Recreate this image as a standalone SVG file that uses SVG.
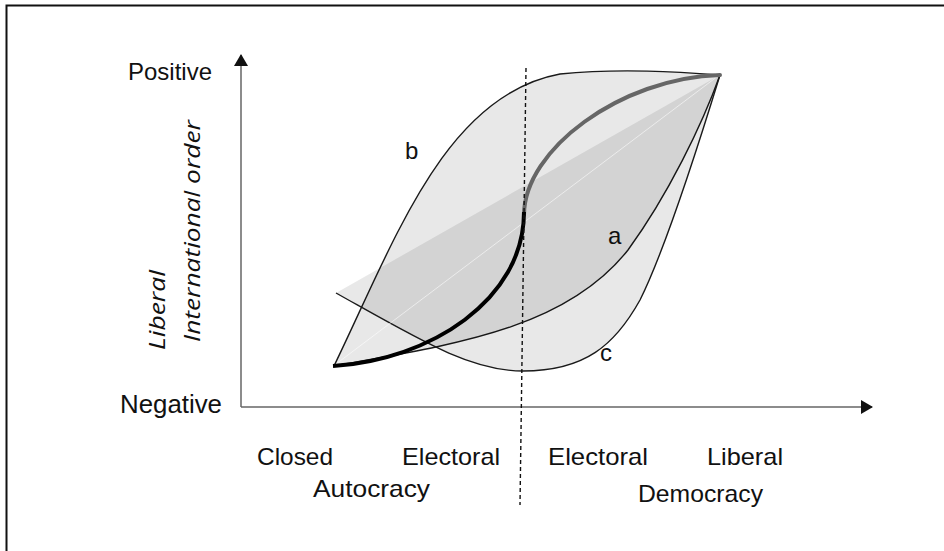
<svg xmlns="http://www.w3.org/2000/svg" width="944" height="551" viewBox="0 0 944 551">
  <defs>
    <style>
      .lbl { font-family: "Liberation Sans", Arial, sans-serif; fill: #111; }
      .ax { font-family: "Open Sans", "Liberation Sans", sans-serif; font-style: italic; fill: #111; }
      .area { fill: #000; fill-opacity: 0.09; stroke: none; }
      .curve { fill: none; stroke: #1a1a1a; stroke-width: 1.4; }
      .axis { fill: none; stroke: #666; stroke-width: 1.5; }
    </style>
    <marker id="arrow" viewBox="0 0 12 14" refX="11" refY="7" markerWidth="12" markerHeight="14" markerUnits="userSpaceOnUse" orient="auto">
      <path d="M0,0 L12,7 L0,14 Z" fill="#111"/>
    </marker>
  </defs>
  <rect width="944" height="551" fill="#fff"/>
  <g id="frame">
    <path d="M6.5,551 L6.5,5.5 L944,5.5" fill="none" stroke="#111" stroke-width="2"/>
  </g>

  <g id="region-b">
    <path class="area" d="M334,366 C395,240 445,95 560,74 C620,68 680,72 720,75 Z"/>
    <path class="curve" d="M334,366 C395,240 445,95 560,74 C620,68 680,72 720,75"/>
    <text class="lbl" x="405" y="159" font-size="24">b</text>
  </g>
  <g id="region-a">
    <path class="area" d="M334,366 C450,345 565,330 628,250 C668,195 702,125 720,75 Z"/>
    <path class="curve" d="M334,366 C450,345 565,330 628,250 C668,195 702,125 720,75"/>
    <text class="lbl" x="608" y="244" font-size="24">a</text>
  </g>
  <g id="region-c">
    <path class="area" d="M336,293 C420,340 470,371 523,371 C585,371 615,345 640,300 C665,250 700,140 720,75 Z"/>
    <path class="curve" d="M336,293 C420,340 470,371 523,371 C585,371 615,345 640,300 C665,250 700,140 720,75"/>
    <text class="lbl" x="600" y="361" font-size="24">c</text>
  </g>
  <g id="diagonal">
    <path d="M336,364 L718,76" stroke="#fff" stroke-opacity="0.55" stroke-width="1" fill="none"/>
  </g>
  <g id="s-curve">
    <path d="M524,215 C524,150 620,78 720,75" fill="none" stroke="#666" stroke-width="4" stroke-linecap="round"/>
    <path d="M333,366 C430,360 524,300 524,212" fill="none" stroke="#000" stroke-width="4" stroke-linecap="butt"/>
  </g>

  <g id="connectors">
    <path class="axis" d="M241,407 L241,55" marker-end="url(#arrow)"/>
    <path class="axis" d="M241,407 L872,407" marker-end="url(#arrow)"/>
    <path d="M526,68 L520,505" fill="none" stroke="#111" stroke-width="1.4" stroke-dasharray="4,3"/>
  </g>

  <g id="y-labels">
    <text class="lbl" x="128" y="80" font-size="24" textLength="84" lengthAdjust="spacingAndGlyphs">Positive</text>
    <text class="lbl" x="120" y="413" font-size="25" textLength="102" lengthAdjust="spacingAndGlyphs">Negative</text>
    <text class="ax" x="165" y="350" font-size="22" transform="rotate(-90 165 350)" textLength="80" lengthAdjust="spacingAndGlyphs">Liberal</text>
    <text class="ax" x="200" y="342" font-size="22" transform="rotate(-90 200 342)" textLength="222" lengthAdjust="spacingAndGlyphs">International order</text>
  </g>
  <g id="x-labels">
    <text class="lbl" x="257" y="465" font-size="24" textLength="76" lengthAdjust="spacingAndGlyphs">Closed</text>
    <text class="lbl" x="402" y="465" font-size="24" textLength="98" lengthAdjust="spacingAndGlyphs">Electoral</text>
    <text class="lbl" x="313" y="497" font-size="24" textLength="117" lengthAdjust="spacingAndGlyphs">Autocracy</text>
    <text class="lbl" x="548" y="465" font-size="24" textLength="100" lengthAdjust="spacingAndGlyphs">Electoral</text>
    <text class="lbl" x="707" y="465" font-size="24" textLength="76" lengthAdjust="spacingAndGlyphs">Liberal</text>
    <text class="lbl" x="638" y="502" font-size="24" textLength="125" lengthAdjust="spacingAndGlyphs">Democracy</text>
  </g>
</svg>
